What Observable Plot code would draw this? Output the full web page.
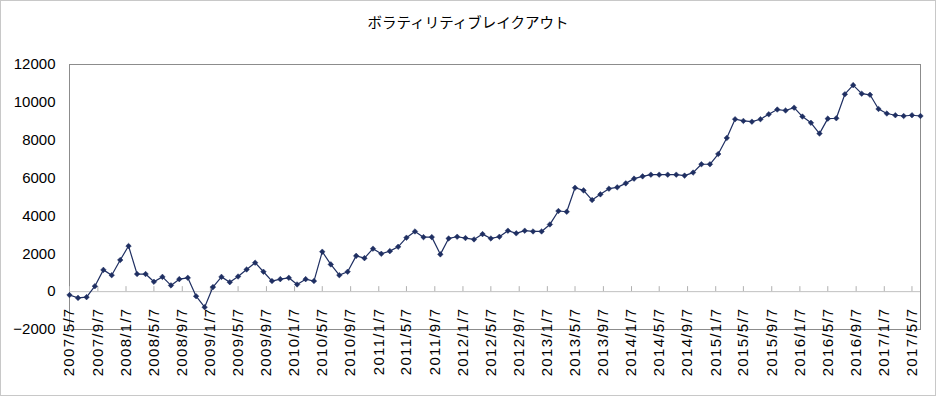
<!DOCTYPE html>
<html>
<head>
<meta charset="utf-8">
<script src="https://cdn.jsdelivr.net/npm/d3@7"></script>
<script src="https://cdn.jsdelivr.net/npm/@observablehq/plot@0.6"></script>
<style>
  body { margin: 0; background: #fff; }
  #chart { width: 936px; height: 396px; border: 1px solid #c8c8c8; box-sizing: border-box; background: #fff; }
  #title { height: 39px; font-family: "Noto Sans CJK JP", sans-serif; font-size: 14.5px; color: #000; text-align: center; line-height: 42px; }
  .xlab text { letter-spacing: 1.3px; }
</style>
</head>
<body>
<div id="chart"><div id="title">ボラティリティブレイクアウト</div></div>
<script>
const title = "ボラティリティブレイクアウト";

const dates = [
  "2007-05-07","2007-06-13","2007-07-20","2007-08-25","2007-10-01","2007-11-06","2007-12-13","2008-01-18","2008-02-24","2008-04-01",
  "2008-05-07","2008-06-13","2008-07-20","2008-08-25","2008-10-01","2008-11-06","2008-12-13","2009-01-18","2009-02-24","2009-04-01",
  "2009-05-07","2009-06-13","2009-07-20","2009-08-25","2009-10-01","2009-11-06","2009-12-13","2010-01-18","2010-02-24","2010-04-01",
  "2010-05-07","2010-06-13","2010-07-20","2010-08-25","2010-10-01","2010-11-06","2010-12-13","2011-01-18","2011-02-24","2011-04-01",
  "2011-05-07","2011-06-13","2011-07-20","2011-08-25","2011-10-01","2011-11-06","2011-12-13","2012-01-18","2012-02-24","2012-04-01",
  "2012-05-07","2012-06-13","2012-07-20","2012-08-25","2012-10-01","2012-11-06","2012-12-13","2013-01-18","2013-02-24","2013-04-01",
  "2013-05-07","2013-06-13","2013-07-20","2013-08-25","2013-10-01","2013-11-06","2013-12-13","2014-01-18","2014-02-24","2014-04-01",
  "2014-05-07","2014-06-13","2014-07-20","2014-08-25","2014-10-01","2014-11-06","2014-12-13","2015-01-18","2015-02-24","2015-04-01",
  "2015-05-07","2015-06-13","2015-07-20","2015-08-25","2015-10-01","2015-11-06","2015-12-13","2016-01-18","2016-02-24","2016-04-01",
  "2016-05-07","2016-06-13","2016-07-20","2016-08-25","2016-10-01","2016-11-06","2016-12-13","2017-01-18","2017-02-24","2017-04-01",
  "2017-05-07","2017-06-13"
];

const values = [
  -180,-330,-290,290,1150,870,1670,2410,930,930,
  520,780,330,660,730,-240,-820,240,780,500,
  800,1170,1530,1050,560,660,730,380,660,560,
  2110,1440,870,1050,1890,1770,2270,2000,2140,2370,
  2850,3180,2880,2880,1970,2810,2900,2830,2760,3040,
  2810,2900,3220,3080,3220,3180,3180,3550,4260,4220,
  5490,5350,4840,5140,5440,5510,5720,5970,6090,6180,
  6180,6180,6180,6130,6290,6730,6730,7270,8120,9110,
  9020,8980,9110,9370,9620,9570,9720,9250,8920,8350,
  9140,9160,10430,10910,10460,10400,9650,9410,9320,9280,
  9320,9280
];

const tickLabels = [
  "2007/5/7","2007/9/7","2008/1/7","2008/5/7","2008/9/7","2009/1/7","2009/5/7","2009/9/7",
  "2010/1/7","2010/5/7","2010/9/7","2011/1/7","2011/5/7","2011/9/7","2012/1/7","2012/5/7",
  "2012/9/7","2013/1/7","2013/5/7","2013/9/7","2014/1/7","2014/5/7","2014/9/7","2015/1/7",
  "2015/5/7","2015/9/7","2016/1/7","2016/5/7","2016/9/7","2017/1/7","2017/5/7"
];

const yTicks = [-2000, 0, 2000, 4000, 6000, 8000, 10000, 12000];

const parseSlash = s => { const [y, m, d] = s.split("/").map(Number); return new Date(Date.UTC(y, m - 1, d)); };
const tickDates = tickLabels.map(parseSlash);
const data = dates.map((d, i) => ({date: new Date(d + "T00:00:00Z"), value: values[i]}));
const fmt = d => `${d.getUTCFullYear()}/${d.getUTCMonth() + 1}/${d.getUTCDate()}`;

const lineColor = "#1f2f62";

const chart = Plot.plot({
  width: 934,
  height: 355,
  marginTop: 24,
  marginBottom: 66,
  marginLeft: 68,
  marginRight: 15,
  style: {fontFamily: "'Liberation Sans', Arial, sans-serif", fontSize: "15px", color: "#000", background: "#fff"},
  x: {type: "utc", domain: [data[0].date, data[data.length - 1].date]},
  y: {domain: [-2000, 12000]},
  marks: [
    Plot.frame({stroke: "#8c8c8c", strokeWidth: 1}),
    Plot.ruleY([0], {stroke: "#c0c0c0", strokeWidth: 1}),
    Plot.ruleX(tickDates, {x: d => d, y1: 0, y2: 0, insetTop: -5, stroke: "#b0b0b0"}),
    Plot.axisY(yTicks, {tickSize: 0, tickPadding: 14, fontSize: 15, tickFormat: d => String(d).replace("-", "\u2212"), label: null}),
    Plot.axisX(tickDates, {anchor: "bottom", tickSize: 0, tickPadding: -22, tickRotate: -90, tickFormat: fmt, fontSize: 15, label: null, className: "xlab"}),
    Plot.line(data, {x: "date", y: "value", stroke: lineColor, strokeWidth: 1.2}),
    Plot.dot(data, {x: "date", y: "value", symbol: "diamond2", r: 2.5, fill: lineColor, stroke: lineColor, strokeWidth: 0.5})
  ]
});
document.getElementById("chart").appendChild(chart);
</script>
</body>
</html>
